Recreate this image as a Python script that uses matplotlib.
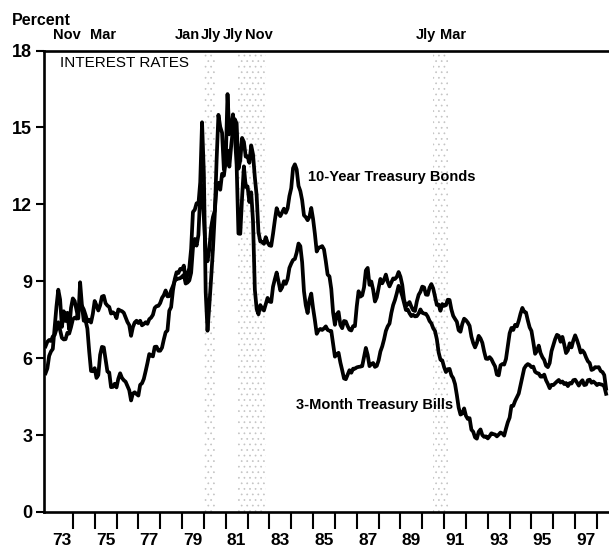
import numpy as np
import matplotlib
matplotlib.use("Agg")
import matplotlib.pyplot as plt
from matplotlib.transforms import blended_transform_factory, offset_copy

# Monthly yields, percent (first plotted point sits at START on the year axis)
START = 1972.75

bonds_10y = [
    6.46, 6.64, 6.71, 6.67, 6.85, 6.90, 7.13, 7.40, 7.09, 6.79, 6.73, 6.74,
    6.99, 6.96, 7.21, 7.51, 7.58, 7.54, 7.81, 8.04, 8.04, 7.90, 7.68, 7.43,
    7.50, 7.39, 7.73, 8.23, 8.06, 7.86, 8.06, 8.40, 8.43, 8.14, 8.05, 8.00,
    7.74, 7.79, 7.73, 7.56, 7.90, 7.86, 7.83, 7.77, 7.59, 7.41, 7.29, 6.87,
    7.21, 7.39, 7.46, 7.37, 7.46, 7.28, 7.33, 7.40, 7.34, 7.52, 7.58, 7.69,
    7.96, 8.03, 8.04, 8.15, 8.35, 8.46, 8.64, 8.41, 8.42, 8.64, 8.81, 9.01,
    9.10, 9.10, 9.12, 9.18, 9.25, 8.91, 8.95, 9.03, 9.33, 10.30, 10.65, 10.39,
    10.80, 12.41, 12.75, 11.47, 10.18, 9.78, 10.25, 11.10, 11.51, 11.75, 12.68, 12.84,
    12.57, 13.19, 13.12, 13.68, 14.10, 13.47, 14.28, 14.94, 15.32, 15.15, 13.39, 13.72,
    14.59, 14.43, 13.86, 13.87, 13.62, 14.30, 13.95, 13.06, 12.34, 10.91, 10.55, 10.54,
    10.46, 10.72, 10.51, 10.40, 10.38, 10.85, 11.38, 11.85, 11.65, 11.54, 11.69, 11.83,
    11.67, 11.84, 12.32, 12.63, 13.41, 13.56, 13.36, 12.72, 12.52, 12.16, 11.57, 11.50,
    11.38, 11.51, 11.86, 11.43, 10.85, 10.16, 10.31, 10.33, 10.37, 10.24, 9.78, 9.26,
    9.19, 8.70, 7.78, 7.30, 7.71, 7.80, 7.30, 7.17, 7.45, 7.43, 7.25, 7.11,
    7.08, 7.25, 7.25, 8.02, 8.61, 8.40, 8.45, 8.76, 9.42, 9.52, 8.86, 8.99,
    8.67, 8.21, 8.37, 8.72, 9.09, 8.92, 9.06, 9.26, 8.98, 8.80, 8.96, 9.11,
    9.09, 9.17, 9.36, 9.18, 8.86, 8.28, 8.02, 8.11, 8.19, 8.01, 7.87, 7.84,
    8.21, 8.47, 8.59, 8.79, 8.76, 8.48, 8.47, 8.75, 8.89, 8.72, 8.39, 8.08,
    8.09, 7.85, 8.11, 8.04, 8.07, 8.28, 8.27, 7.90, 7.65, 7.53, 7.42, 7.09,
    7.03, 7.34, 7.54, 7.48, 7.39, 7.26, 6.84, 6.59, 6.42, 6.59, 6.87, 6.77,
    6.60, 6.26, 5.98, 5.97, 6.04, 5.96, 5.81, 5.68, 5.36, 5.33, 5.72, 5.77,
    5.75, 5.97, 6.48, 6.97, 7.18, 7.10, 7.30, 7.24, 7.46, 7.74, 7.96, 7.81,
    7.78, 7.47, 7.20, 7.06, 6.63, 6.17, 6.28, 6.49, 6.20, 6.04, 5.93, 5.71,
    5.65, 5.81, 6.27, 6.51, 6.74, 6.91, 6.87, 6.64, 6.83, 6.53, 6.20, 6.30,
    6.58, 6.42, 6.69, 6.89, 6.71, 6.49, 6.22, 6.30, 6.21, 6.03, 5.88, 5.81,
    5.54, 5.57, 5.65, 5.64, 5.65, 5.50, 5.46, 5.34, 4.81,
]

bills_3m = [
    5.41, 5.60, 6.09, 6.26, 6.36, 7.19, 8.01, 8.67, 8.29, 7.22, 7.83, 7.45,
    7.77, 7.12, 7.96, 8.33, 8.23, 7.90, 7.55, 8.96, 8.06, 7.46, 7.47, 7.15,
    6.26, 5.50, 5.49, 5.61, 5.23, 5.34, 6.13, 6.44, 6.42, 5.96, 5.48, 5.44,
    4.87, 4.88, 5.00, 4.86, 5.20, 5.41, 5.23, 5.14, 5.08, 4.92, 4.75, 4.35,
    4.62, 4.67, 4.60, 4.54, 4.96, 5.02, 5.19, 5.49, 5.81, 6.16, 6.10, 6.07,
    6.44, 6.45, 6.29, 6.29, 6.41, 6.73, 7.01, 7.08, 7.85, 7.99, 8.64, 9.08,
    9.35, 9.32, 9.48, 9.46, 9.61, 9.06, 9.24, 9.52, 10.26, 11.70, 11.79, 12.04,
    12.00, 12.86, 15.20, 13.20, 8.58, 7.07, 8.06, 9.13, 10.27, 11.62, 13.73, 15.49,
    15.02, 14.79, 13.36, 13.69, 16.30, 14.73, 14.95, 15.51, 14.70, 13.54, 10.86, 10.85,
    12.28, 13.48, 12.68, 12.70, 12.09, 12.47, 11.35, 8.68, 7.92, 7.71, 8.07, 7.94,
    7.86, 8.11, 8.35, 8.21, 8.19, 8.79, 9.08, 9.34, 9.00, 8.64, 8.76, 9.00,
    8.90, 9.09, 9.52, 9.69, 9.83, 9.87, 10.12, 10.47, 10.37, 9.74, 8.61, 8.06,
    7.76, 8.27, 8.52, 7.95, 7.48, 6.95, 7.08, 7.14, 7.10, 7.16, 7.24, 7.10,
    7.07, 7.06, 6.56, 6.06, 6.15, 6.21, 5.83, 5.53, 5.21, 5.18, 5.35, 5.53,
    5.43, 5.59, 5.59, 5.64, 5.66, 5.67, 5.69, 6.04, 6.40, 6.13, 5.69, 5.77,
    5.81, 5.66, 5.70, 5.91, 6.26, 6.46, 6.73, 7.06, 7.24, 7.35, 7.76, 8.07,
    8.27, 8.53, 8.82, 8.65, 8.43, 8.15, 7.88, 7.90, 7.75, 7.64, 7.69, 7.63,
    7.64, 7.74, 7.90, 7.77, 7.74, 7.73, 7.62, 7.45, 7.36, 7.17, 7.06, 6.74,
    6.22, 5.94, 5.91, 5.65, 5.46, 5.57, 5.58, 5.33, 5.22, 4.99, 4.56, 4.07,
    3.80, 3.84, 4.04, 3.75, 3.63, 3.66, 3.21, 3.13, 2.91, 2.86, 3.13, 3.22,
    3.00, 2.93, 2.95, 2.87, 2.96, 3.07, 3.04, 3.02, 2.95, 3.02, 3.10, 3.06,
    2.98, 3.25, 3.50, 3.68, 4.14, 4.14, 4.33, 4.48, 4.62, 4.95, 5.29, 5.60,
    5.71, 5.77, 5.73, 5.65, 5.67, 5.47, 5.42, 5.40, 5.28, 5.28, 5.36, 5.14,
    5.00, 4.83, 4.96, 4.95, 5.02, 5.09, 5.15, 5.05, 5.09, 4.99, 5.03, 4.91,
    5.03, 5.01, 5.14, 5.16, 5.05, 4.93, 5.05, 5.14, 4.95, 4.97, 5.14, 5.16,
    5.04, 5.09, 5.03, 4.95, 5.00, 4.98, 4.96, 4.90, 4.61,
]

# Business-cycle turning points marked along the top edge
cycle_labels = ["Nov", "Mar", "Jan", "Jly", "Jly", "Nov", "Jly", "Mar"]
cycle_dates = [1973 + 10/12, 1975 + 2/12, 1980.0, 1980.5,
               1981.5, 1982 + 10/12, 1990.5, 1991 + 2/12]
# Recession bands drawn with stipple (peak, trough)
shaded_recessions = [(1980.0, 1980.5), (1981.5, 1982 + 10/12), (1990.5, 1991 + 2/12)]

y_ticks = [0, 3, 6, 9, 12, 15, 18]
year_ticks = list(range(1974, 1999))
year_labels = ["73", "75", "77", "79", "81", "83", "85", "87", "89", "91", "93", "95", "97"]

FONT = "Liberation Sans"

fig = plt.figure(figsize=(6.09, 5.54), dpi=100)
ax = fig.add_axes([44/609, 1 - 512/554, (609 - 44)/609, (512 - 50.5)/554])

# stippled recession bands
matplotlib.rcParams["hatch.linewidth"] = 0.5
for a, b in shaded_recessions:
    ax.axvspan(a, b, facecolor="none", edgecolor="#c4c4c4", hatch="...",
               linewidth=0, zorder=0)

t = START + np.arange(len(bonds_10y)) / 12.0
ax.plot(t, bonds_10y, color="black", lw=2.7, solid_joinstyle="round", zorder=3)
ax.plot(t, bills_3m, color="black", lw=2.7, solid_joinstyle="round", zorder=3)

ax.set_xlim(1972.68, 1998.55)
ax.set_ylim(0, 18)

for side in ("left", "top", "bottom"):
    ax.spines[side].set_linewidth(1.9)
ax.spines["right"].set_visible(False)

ax.set_yticks(y_ticks)
ax.set_yticklabels([str(v) for v in y_ticks], fontfamily=FONT,
                   fontweight="bold", fontsize=13)
ax.tick_params(axis="y", direction="out", length=6, width=1.5, pad=2.5)

ax.set_xticks(year_ticks)
ax.set_xticklabels([])
ax.tick_params(axis="x", which="major", direction="out", length=12, width=1.5)
label_pos = [int(s) + 1900 + 0.5 for s in year_labels]
ax.set_xticks(label_pos, minor=True)
ax.set_xticklabels(year_labels, minor=True, fontfamily=FONT,
                   fontweight="bold", fontsize=12.5)
ax.tick_params(axis="x", which="minor", length=0, pad=15)

# turning-point labels above the frame
label_shift_px = [-2.5, 5, -16, -4, -3.5, -6.5, -7, 5]
top = blended_transform_factory(ax.transData, ax.transAxes)
for lab, d, dx in zip(cycle_labels, cycle_dates, label_shift_px):
    tr = offset_copy(top, fig=fig, x=dx, y=0, units="dots")
    ax.text(d, (512 - 39) / 461.5, lab, transform=tr, ha="center", va="baseline",
            fontfamily=FONT, fontweight="bold", fontsize=10.5, clip_on=False)

fig.text(12/609, 1 - 25/554, "Percent", ha="left", va="baseline",
         fontfamily=FONT, fontweight="bold", fontsize=11.5)

ax.text(0.028, (512 - 67) / 461.5, "INTEREST RATES", transform=ax.transAxes,
        ha="left", va="baseline", fontfamily=FONT, fontsize=11)

ax.text(1984.77, 12.9, "10-Year Treasury Bonds", ha="left", va="baseline",
        fontfamily=FONT, fontweight="bold", fontsize=10.5, zorder=4)
ax.text(1991.41, 4.02, "3-Month Treasury Bills", ha="right", va="baseline",
        fontfamily=FONT, fontweight="bold", fontsize=10.5, zorder=4)

fig.savefig("out.png", dpi=100)
